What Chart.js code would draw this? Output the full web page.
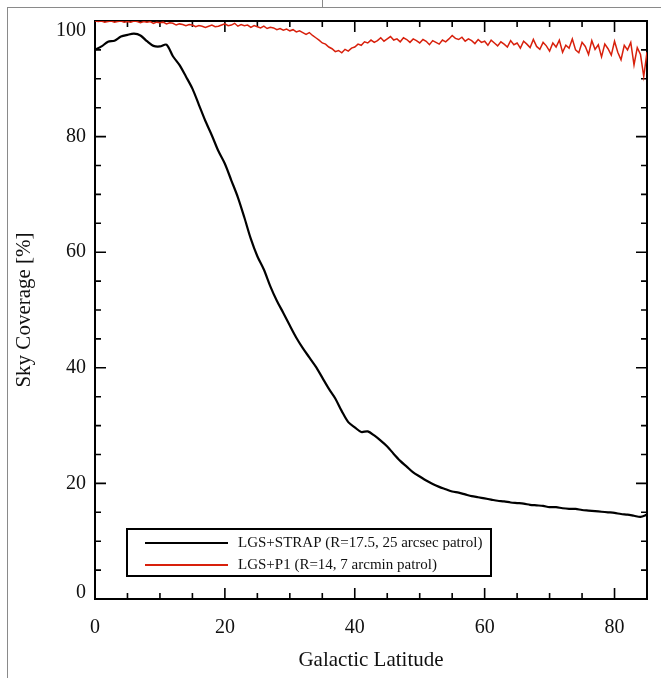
<!DOCTYPE html>
<html><head><meta charset="utf-8">
<script src="https://cdn.jsdelivr.net/npm/chart.js@4.4.0/dist/chart.umd.min.js"></script>
<style>
html,body{margin:0;padding:0;background:#fff;}
#wrap{position:relative;width:661px;height:678px;overflow:hidden;}
canvas{position:absolute;left:0;top:0;}
.bl{position:absolute;left:7px;top:7px;width:1px;height:671px;background:#8a8a8a;}
.bt{position:absolute;left:7px;top:7px;width:654px;height:1px;background:#8a8a8a;}
.bm{position:absolute;left:322px;top:0;width:1px;height:7px;background:#8a8a8a;}
</style></head><body>
<div id="wrap"><canvas id="c" width="661" height="678"></canvas><div class="bl"></div><div class="bt"></div><div class="bm"></div></div>
<script>
// ---- data ----
const seriesNames = ['LGS+STRAP (R=17.5, 25 arcsec patrol)', 'LGS+P1 (R=14, 7 arcmin patrol)'];
const xTitle = 'Galactic Latitude';
const yTitle = 'Sky Coverage [%]';
const xTickValues = [0, 20, 40, 60, 80];
const yTickValues = [0, 20, 40, 60, 80, 100];

// LGS+STRAP, one value per degree of latitude (0..85)
const strapLatitude = [0,1,2,3,4,5,6,7,8,9,10,11,12,13,14,15,16,17,18,19,20,21,22,23,24,25,26,27,28,29,30,31,32,33,34,35,36,37,38,39,40,41,42,43,44,45,46,47,48,49,50,51,52,53,54,55,56,57,58,59,60,61,62,63,64,65,66,67,68,69,70,71,72,73,74,75,76,77,78,79,80,81,82,83,84,85];
const strapCoverage = [
  95.0, 95.6, 96.4, 96.6, 97.3, 97.6, 97.8, 97.5, 96.5, 95.7,
  95.6, 95.9, 93.9, 92.4, 90.4, 88.3, 85.5, 82.7, 80.2, 77.5,
  75.3, 72.4, 69.5, 66.0, 62.3, 59.3, 57.0, 54.1, 51.6, 49.5,
  47.3, 45.2, 43.4, 41.8, 40.2, 38.3, 36.4, 34.7, 32.5, 30.6,
  29.7, 28.9, 29.0, 28.3, 27.4, 26.4, 25.1, 23.9, 22.9, 21.9,
  21.2, 20.5, 19.9, 19.4, 19.0, 18.6, 18.4, 18.1, 17.8, 17.6,
  17.4, 17.2, 17.0, 16.9, 16.7, 16.6, 16.5, 16.3, 16.2, 16.1,
  15.9, 15.9, 15.7, 15.6, 15.6, 15.4, 15.3, 15.2, 15.1, 15.0,
  14.9, 14.7, 14.6, 14.4, 14.2, 14.6
];

// LGS+P1, one value per half degree of latitude (0..85)
const p1Step = 0.5;
const p1Coverage = [
  100, 99.9, 100, 99.8, 99.9, 100, 99.8, 99.9, 100, 99.8,
  99.9, 99.8, 100, 99.9, 99.7, 99.9, 99.8, 99.9, 99.6, 99.8,
  99.7, 99.8, 99.5, 99.7, 99.6, 99.3, 99.5, 99.4, 99.2, 99.4,
  99.3, 99.0, 99.2, 99.1, 98.9, 99.1, 99.3, 99.0, 99.1, 99.3,
  99.5, 99.2, 99.3, 99.6, 99.1, 99.4, 99.2, 99.3, 98.9, 99.2,
  99.0, 98.8, 99.1, 98.7, 98.9, 98.8, 98.5, 98.7, 98.4, 98.6,
  98.3, 98.5, 98.1, 98.3, 98.0, 97.7, 98.0, 97.5, 97.1, 96.7,
  96.2, 96.0, 95.5, 95.2, 94.7, 94.9, 94.5, 95.1, 94.8, 95.3,
  95.5, 96.0, 95.8, 96.4, 96.2, 96.7, 96.3, 96.6, 97.1, 96.5,
  96.9, 97.3, 96.7, 96.9, 96.4, 97.1, 96.8, 96.3, 96.9, 96.6,
  96.2, 96.8, 96.5, 95.9, 96.6, 96.3, 96.0, 96.7, 96.4, 96.9,
  97.5, 97.0, 96.8, 97.2, 96.5, 96.9, 96.6, 96.1, 96.8, 96.3,
  96.5, 95.8, 96.7, 96.2, 95.7, 96.4, 96.0, 95.5, 96.6, 95.9,
  96.2, 95.3, 96.5, 96.0, 95.4, 96.8, 95.6, 95.1, 96.3, 95.7,
  94.8, 96.2, 95.5, 96.7, 94.6, 95.8, 95.3, 96.9, 95.0, 94.5,
  96.3, 95.6, 94.2, 96.6, 95.1, 95.9, 93.8, 96.0, 95.2, 94.1,
  96.5, 94.6, 93.3, 95.8, 95.0, 96.3, 92.4, 95.4, 94.2, 90.4,
  94.6
];

// ---- chart ----
const FONT = "'Liberation Serif', 'Times New Roman', serif";
const strapPoints = strapLatitude.map((x, i) => ({x: x, y: strapCoverage[i]}));
const p1Points = p1Coverage.map((v, i) => ({x: i * p1Step, y: v}));

const frameTicks = {
  id: 'frameTicks',
  beforeDraw(chart) {
    // IDL-style: end labels of the y axis are pulled inside the axis range
    const s = chart.scales.y;
    try {
      const items = s.getLabelItems(chart.chartArea);
      items.forEach(it => {
        if (it._shifted) return;
        if (it.label === '100') it.options.translation[1] += 10;
        if (it.label === '0') it.options.translation[1] -= 6;
        it._shifted = true;
      });
    } catch (e) {}
  },
  beforeDatasetsDraw(chart) {
    const {ctx, chartArea: a, scales: {x, y}} = chart;
    ctx.save();
    ctx.strokeStyle = '#000';
    ctx.lineWidth = 2;
    ctx.strokeRect(a.left, a.top, a.right - a.left, a.bottom - a.top);
    ctx.lineWidth = 1.6;
    ctx.beginPath();
    for (let v = 5; v < x.max; v += 5) {
      const px = x.getPixelForValue(v);
      const L = v % 20 === 0 ? 11 : 6;
      ctx.moveTo(px, a.bottom); ctx.lineTo(px, a.bottom - L);
      ctx.moveTo(px, a.top); ctx.lineTo(px, a.top + L);
    }
    for (let v = 5; v < y.max; v += 5) {
      const py = y.getPixelForValue(v);
      const L = v % 20 === 0 ? 11 : 6;
      ctx.moveTo(a.left, py); ctx.lineTo(a.left + L, py);
      ctx.moveTo(a.right, py); ctx.lineTo(a.right - L, py);
    }
    ctx.stroke();
    ctx.restore();
  },
  afterDraw(chart) {
    const {ctx, chartArea: a} = chart;
    const bx = a.left + 32, by = a.bottom - 70, bw = 364, bh = 47;
    ctx.save();
    ctx.fillStyle = '#fff';
    ctx.fillRect(bx, by, bw, bh);
    ctx.strokeStyle = '#000';
    ctx.lineWidth = 2;
    ctx.strokeRect(bx, by, bw, bh);
    ctx.font = '15px ' + FONT;
    ctx.textBaseline = 'middle';
    ctx.textAlign = 'left';
    chart.data.datasets.forEach((ds, i) => {
      const ly = by + 14 + i * 22;
      ctx.strokeStyle = ds.borderColor;
      ctx.lineWidth = 2;
      ctx.beginPath();
      ctx.moveTo(bx + 18, ly); ctx.lineTo(bx + 101, ly);
      ctx.stroke();
      ctx.fillStyle = '#111';
      ctx.fillText(ds.label, bx + 111, ly);
    });
    ctx.restore();
  }
};

new Chart(document.getElementById('c'), {
  type: 'line',
  data: {
    datasets: [
      {label: seriesNames[0], data: strapPoints, borderColor: '#000000', borderWidth: 2.2, pointRadius: 0, tension: 0.3, fill: false},
      {label: seriesNames[1], data: p1Points, borderColor: '#d8200c', borderWidth: 1.5, pointRadius: 0, tension: 0, fill: false}
    ]
  },
  options: {
    responsive: false,
    animation: false,
    devicePixelRatio: 1,
    layout: {padding: {left: 0, right: 14, top: 20, bottom: 0}},
    plugins: {legend: {display: false}, tooltip: {enabled: false}},
    scales: {
      x: {
        type: 'linear', min: 0, max: 85,
        afterBuildTicks: s => { s.ticks = xTickValues.map(v => ({value: v})); },
        afterFit: s => { s.height = 79; },
        grid: {display: false, drawTicks: false},
        border: {display: false},
        ticks: {color: '#111', font: {family: FONT, size: 20}, padding: 17, maxRotation: 0},
        title: {display: true, text: xTitle, color: '#111', font: {family: FONT, size: 21}, padding: {top: 0, bottom: 5}}
      },
      y: {
        type: 'linear', min: 0, max: 100,
        afterBuildTicks: s => { s.ticks = yTickValues.map(v => ({value: v})); },
        afterFit: s => { s.width = 95; },
        grid: {display: false, drawTicks: false},
        border: {display: false},
        ticks: {color: '#111', font: {family: FONT, size: 20}, padding: 9},
        title: {display: true, text: yTitle, color: '#111', font: {family: FONT, size: 21}, padding: {top: 12, bottom: 0}}
      }
    }
  },
  plugins: [frameTicks]
});
</script>
</body></html>
